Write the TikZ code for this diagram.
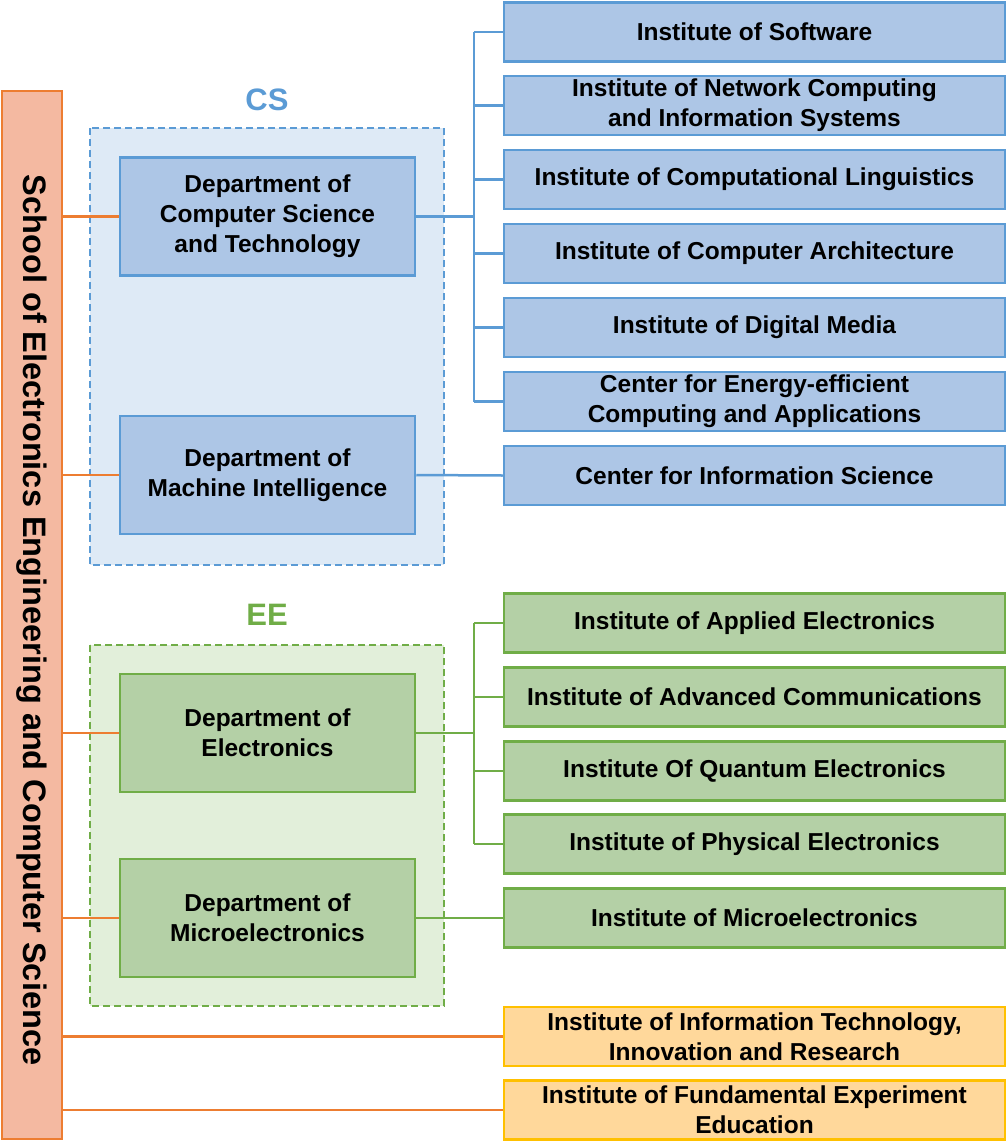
\documentclass[tikz,border=0pt]{standalone}
\usepackage{fontspec}
\setmainfont{Liberation Sans}
\definecolor{bbord}{HTML}{5B9BD5}
\definecolor{bfill}{HTML}{ADC6E6}
\definecolor{bpale}{HTML}{DEEAF6}
\definecolor{gbord}{HTML}{70AD47}
\definecolor{gfill}{HTML}{B4D0A6}
\definecolor{gpale}{HTML}{E2EFDA}
\definecolor{obord}{HTML}{ED7D31}
\definecolor{ofill}{HTML}{F4B9A1}
\definecolor{ybord}{HTML}{FFC000}
\definecolor{yfill}{HTML}{FFD89B}
\begin{document}
\begin{tikzpicture}[x=1pt,y=-1pt,
 txt/.style={font=\fontsize{24.5}{30}\selectfont\bfseries,align=center},
 bbox/.style={txt,draw=bbord,fill=bfill,line width=2.5pt},
 gbox/.style={txt,draw=gbord,fill=gfill,line width=2.5pt},
 ybox/.style={txt,draw=ybord,fill=yfill,line width=2.5pt},
 bl/.style={draw=bbord,line width=2.5pt},
 gl/.style={draw=gbord,line width=2.5pt},
 ol/.style={draw=obord,line width=2.5pt}]
\useasboundingbox (0,0) rectangle (1007,1141);
% group boxes
\draw[bbord,fill=bpale,dash pattern=on 7pt off 4pt,line width=2.5pt] (90,128) rectangle (444,565);
\node[txt,text=bbord,font=\fontsize{31}{34}\selectfont\bfseries] (cs) at (267,100) {CS};
\draw[gbord,fill=gpale,dash pattern=on 7pt off 4pt,line width=2.5pt] (90,645) rectangle (444,1006);
\node[txt,text=gbord,font=\fontsize{31}{34}\selectfont\bfseries] (ee) at (267,615) {EE};
% school bar
\node[draw=obord,fill=ofill,line width=2.5pt,minimum width=60,minimum height=1048,inner sep=0] (school) at (32,615) {};
\node[rotate=-90,font=\fontsize{32.5}{36}\selectfont\bfseries] (schoolt) at (32,620) {School of Electronics Engineering and Computer Science};
% departments
\newcommand{\dept}[5]{\node[#1,minimum width=295,minimum height=118,inner sep=0] (#2) at (267.5,#3) {#4\\#5};}
\dept{bbox}{dcs}{216.5}{Department of\\Computer Science}{and Technology}
\dept{bbox}{dmi}{475}{Department of}{Machine Intelligence}
\dept{gbox}{de}{733}{Department of}{Electronics}
\dept{gbox}{dm}{918}{Department of}{Microelectronics}
% right boxes
\newcommand{\inst}[4]{\node[#1,minimum width=501,minimum height=59,inner sep=0] (#2) at (754.5,#3) {#4};}
\inst{bbox}{i1}{32}{Institute of Software}
\inst{bbox}{i2}{105.5}{Institute of Network Computing\\and Information Systems}
\inst{bbox}{i3}{179.5}{Institute of Computational Linguistics}
\inst{bbox}{i4}{253.5}{Institute of Computer Architecture}
\inst{bbox}{i5}{327.5}{Institute of Digital Media}
\inst{bbox}{i6}{401.5}{Center for Energy-efficient\\Computing and Applications}
\inst{bbox}{i7}{475.5}{Center for Information Science}
\inst{gbox}{g1}{623}{Institute of Applied Electronics}
\inst{gbox}{g2}{697}{Institute of Advanced Communications}
\inst{gbox}{g3}{771}{Institute Of Quantum Electronics}
\inst{gbox}{g4}{844}{Institute of Physical Electronics}
\inst{gbox}{g5}{918}{Institute of Microelectronics}
\inst{ybox}{y1}{1036.5}{Institute of Information Technology,\\Innovation and Research}
\inst{ybox}{y2}{1110}{Institute of Fundamental Experiment\\Education}
% connectors
\coordinate (bb) at (474,216.5);
\draw[bl] (dcs.east) -- (bb);
\draw[bl] (474,32) -- (474,401.5);
\foreach \n in {i1,i2,i3,i4,i5,i6} \draw[bl] (\n.west) -- (474,0|-\n.west);
\draw[bl] (dmi.east) -- (i7.west);
\coordinate (gb) at (474,733);
\draw[gl] (de.east) -- (gb);
\draw[gl] (474,623) -- (474,844);
\foreach \n in {g1,g2,g3,g4} \draw[gl] (\n.west) -- (474,0|-\n.west);
\draw[gl] (dm.east) -- (g5.west);
\foreach \n in {dcs,dmi,de,dm} \draw[ol] (62,0|-\n.west) -- (\n.west);
\draw[ol] (62,1036.5) -- (y1.west);
\draw[ol] (62,1110) -- (y2.west);
\end{tikzpicture}
\end{document}
